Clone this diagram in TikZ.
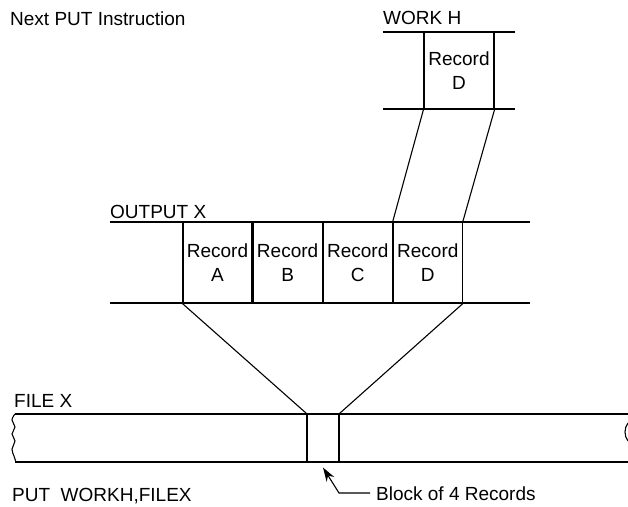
\documentclass[tikz,border=0pt]{standalone}
\usepackage{fontspec}
\setmainfont{Liberation Sans}
\usetikzlibrary{arrows.meta, positioning, calc}
\tikzstyle{band} = [line width=1.1pt]

\begin{document}
\begin{tikzpicture}[
    x=1pt, y=-1pt,
    font=\fontsize{19}{24}\selectfont,
    record/.style = {rectangle, draw=black, line width=1.1pt, inner sep=0pt,
                     minimum width=69pt, minimum height=81pt, align=center},
    blockbox/.style = {rectangle, draw=black, line width=1.1pt, inner sep=0pt,
                     minimum width=32pt, minimum height=48pt},
    lab/.style    = {anchor=base west, inner sep=0pt},
    tie/.style    = {line width=1.1pt},
    ptr/.style    = {-{Stealth[length=14pt,width=9pt]}, line width=1.1pt},
]
\useasboundingbox (0,0) rectangle (628,506);

% ---- labels ----
\node[lab] (next) at (10,25)  {Next PUT Instruction};
\node[lab] (workl) at (383,24) {WORK H};
\node[lab] (outl) at (110,218) {OUTPUT X};
\node[lab] (filel) at (14,407) {FILE X};
\node[lab] (put)  at (12,501) {PUT\ \ WORKH,FILEX};

% ---- work area ----
\draw[band] (383,32)  -- (515,32);
\draw[band] (383,109) -- (515,109);
\node[record, minimum width=70pt, minimum height=77pt] (workD) at (459,70.5) {Record\\D};

% ---- output area ----
\draw[band] (110,222) -- (530,222);
\draw[band] (110,303) -- (530,303);
\node[record] (recA) at (217.5,262.5) {Record\\A};
\node[record] (recB) [right=0pt of recA] {Record\\B};
\node[record] (recC) [right=0pt of recB] {Record\\C};
\node[record] (recD) [right=0pt of recC] {Record\\D};

% ---- file ----
\draw[band] (15,414) -- (628,414);
\draw[band] (15,462) -- (628,462);
\draw[band] plot[smooth, tension=0.7] coordinates
     {(15,414) (12,420) (15,427) (12,434) (15,441) (12,449) (14,456) (16,462)};
\draw[band] (628,423) .. controls (624,428) and (624,436) .. (628,441);
\node[blockbox] (blk) at (323,438) {};

% ---- moves ----
\draw[tie] (workD.south west) -- (recD.north west);
\draw[tie] (workD.south east) -- (recD.north east);
\draw[tie] (recA.south west) -- (blk.north west);
\draw[tie] (recD.south east) -- (blk.north east);

% ---- block pointer ----
\node[lab] (blkl) at (376,500) {Block of 4 Records};
\coordinate (bend) at (339,493);
\draw[ptr] ($(blkl.base west)+(-6,-7)$) -- (bend) -- ($(blk.south)+(0,5)$);

\end{tikzpicture}
\end{document}
